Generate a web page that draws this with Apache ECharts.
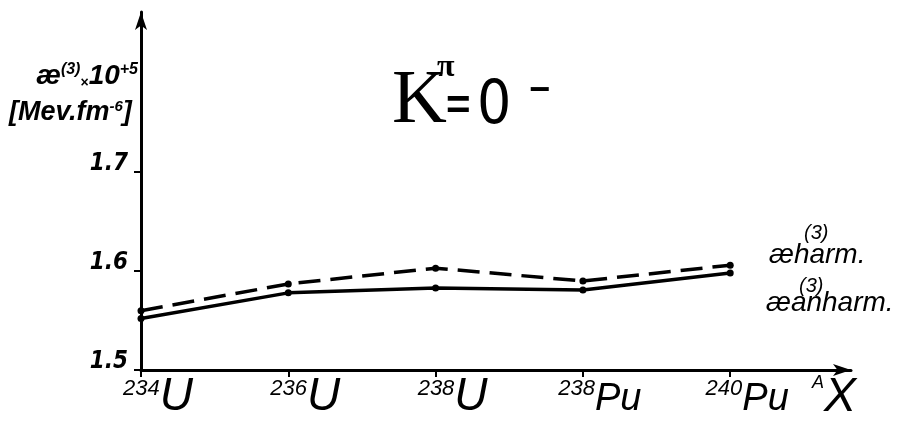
<!DOCTYPE html>
<html><head><meta charset="utf-8">
<script src="https://cdn.jsdelivr.net/npm/echarts@6/dist/echarts.min.js"></script>
<style>html,body{margin:0;padding:0;background:#fff}#c{width:897px;height:428px}</style>
</head><body><div id="c"></div>
<script>
// ---- data ----
const categories = ['234U', '236U', '238U', '238Pu', '240Pu'];
const catMass = ['234', '236', '238', '238', '240'];
const catElem = ['U', 'U', 'U', 'Pu', 'Pu'];
const harm = [1.560, 1.587, 1.603, 1.590, 1.606];
const anharm = [1.552, 1.578, 1.583, 1.581, 1.598];
const yTicks = [1.5, 1.6, 1.7];
const yTickLabels = ['1.5', '1.6', '1.7'];
const xTicks = [0, 1, 2, 3, 4];

const FF = "'Liberation Sans', 'DejaVu Sans', sans-serif";
const NARROW = "'Liberation Sans Narrow', 'DejaVu Sans Condensed', 'Liberation Sans', sans-serif";
const SERIF = "'Liberation Serif', 'DejaVu Serif', serif";

const chart = echarts.init(document.getElementById('c'), null, { renderer: 'canvas' });

chart.setOption({
  animation: false,
  backgroundColor: '#fff',
  grid: { left: 141, right: 46, top: 12, bottom: 58, containLabel: false },
  xAxis: {
    type: 'value', min: 0, max: 4.82,
    axisLine: { show: true, lineStyle: { color: '#000', width: 3 }, symbol: ['none', 'arrow'], symbolSize: [9, 18] },
    axisTick: { show: true, customValues: xTicks, length: 7, lineStyle: { color: '#000', width: 2 } },
    splitLine: { show: false },
    axisLabel: {
      customValues: xTicks,
      margin: 4,
      formatter: function (v) {
        const i = Math.round(v);
        const st = catElem[i] === 'U' ? 'e' : 'p';
        return '{sp| }{n|' + catMass[i] + '}{' + st + '|' + catElem[i] + '}';
      },
      rich: {
        sp: { width: 34, fontSize: 10 },
        n: { fontSize: 22, fontStyle: 'italic', fontFamily: FF, color: '#000', verticalAlign: 'top', padding: [4, 0, 0, 0] },
        e: { fontSize: 46, fontStyle: 'italic', fontFamily: FF, color: '#000', verticalAlign: 'top' },
        p: { fontSize: 38, fontStyle: 'italic', fontFamily: FF, color: '#000', verticalAlign: 'top', padding: [6, 0, 0, 0] }
      }
    }
  },
  yAxis: {
    type: 'value', min: 1.5, max: 1.862,
    axisLine: { show: true, lineStyle: { color: '#000', width: 3 }, symbol: ['none', 'arrow'], symbolSize: [9, 18] },
    axisTick: { show: true, customValues: yTicks, length: 7, lineStyle: { color: '#000', width: 2 } },
    splitLine: { show: false },
    axisLabel: {
      customValues: yTicks,
      margin: 13,
      formatter: function (v) {
        const k = yTicks.findIndex(t => Math.abs(t - v) < 1e-6);
        return k >= 0 ? yTickLabels[k] : '';
      },
      fontSize: 24, fontStyle: 'italic', fontWeight: 'bold', fontFamily: NARROW, color: '#000',
      verticalAlign: 'bottom', lineHeight: 16
    }
  },
  series: [
    {
      name: 'harm', type: 'line',
      data: harm.map((v, i) => [i, v]),
      symbol: 'circle', symbolSize: 7,
      itemStyle: { color: '#000' },
      lineStyle: { color: '#000', width: 3.5, type: [22, 10] }
    },
    {
      name: 'anharm', type: 'line',
      data: anharm.map((v, i) => [i, v]),
      symbol: 'circle', symbolSize: 7,
      itemStyle: { color: '#000' },
      lineStyle: { color: '#000', width: 3.5 }
    }
  ],
  graphic: [
    // title K^pi = 0^-
    { type: 'text', left: 392, top: 64, style: { text: 'K', fontSize: 76, fontFamily: SERIF, fill: '#000' } },
    { type: 'text', left: 437, top: 52, style: { text: 'π', fontSize: 32, fontWeight: 'bold', fontFamily: SERIF, fill: '#000' } },
    { type: 'text', left: 446, top: 86, style: { text: '=', fontSize: 42, fontWeight: 'bold', fontFamily: FF, fill: '#000' } },
    { type: 'text', left: 477, top: 77, style: { text: '0', fontSize: 60, fontFamily: NARROW, fill: '#000' } },
    { type: 'text', left: 529, top: 73, style: { text: '−', fontSize: 36, fontWeight: 'bold', fontFamily: FF, fill: '#000' } },
    // y axis name
    { type: 'text', left: 36, top: 62, style: {
        text: '{a|æ}{s|(3)}{b|×}{a|10}{s|+5}',
        rich: {
          a: { fontSize: 28, fontStyle: 'italic', fontWeight: 'bold', fontFamily: FF, fill: '#000', verticalAlign: 'bottom' },
          b: { fontSize: 14, fontWeight: 'bold', fontFamily: FF, fill: '#000', verticalAlign: 'bottom' },
          s: { fontSize: 16, fontStyle: 'italic', fontWeight: 'bold', fontFamily: FF, fill: '#000', verticalAlign: 'top' }
        }
      } },
    { type: 'text', left: 9, top: 99, style: {
        text: '{a|[Mev.fm}{s|-6}{a|]}',
        rich: {
          a: { fontSize: 27, fontStyle: 'italic', fontWeight: 'bold', fontFamily: FF, fill: '#000', verticalAlign: 'bottom' },
          s: { fontSize: 15, fontStyle: 'italic', fontWeight: 'bold', fontFamily: FF, fill: '#000', verticalAlign: 'top' }
        }
      } },
    // series labels
    { type: 'text', left: 769, top: 241, style: { text: 'æharm.', fontSize: 28, fontStyle: 'italic', fontFamily: FF, fill: '#000' } },
    { type: 'text', left: 804, top: 223, style: { text: '(3)', fontSize: 20, fontStyle: 'italic', fontFamily: FF, fill: '#000' } },
    { type: 'text', left: 766, top: 289, style: { text: 'æanharm.', fontSize: 28, fontStyle: 'italic', fontFamily: FF, fill: '#000' } },
    { type: 'text', left: 799, top: 276, style: { text: '(3)', fontSize: 20, fontStyle: 'italic', fontFamily: FF, fill: '#000' } },
    // x axis name
    { type: 'text', left: 812, top: 374, style: {
        text: '{s|A}{x|X}',
        rich: {
          s: { fontSize: 18, fontStyle: 'italic', fontFamily: FF, fill: '#000', verticalAlign: 'top' },
          x: { fontSize: 48, fontStyle: 'italic', fontFamily: FF, fill: '#000', verticalAlign: 'top' }
        }
      } }
  ]
});
</script>
</body></html>
